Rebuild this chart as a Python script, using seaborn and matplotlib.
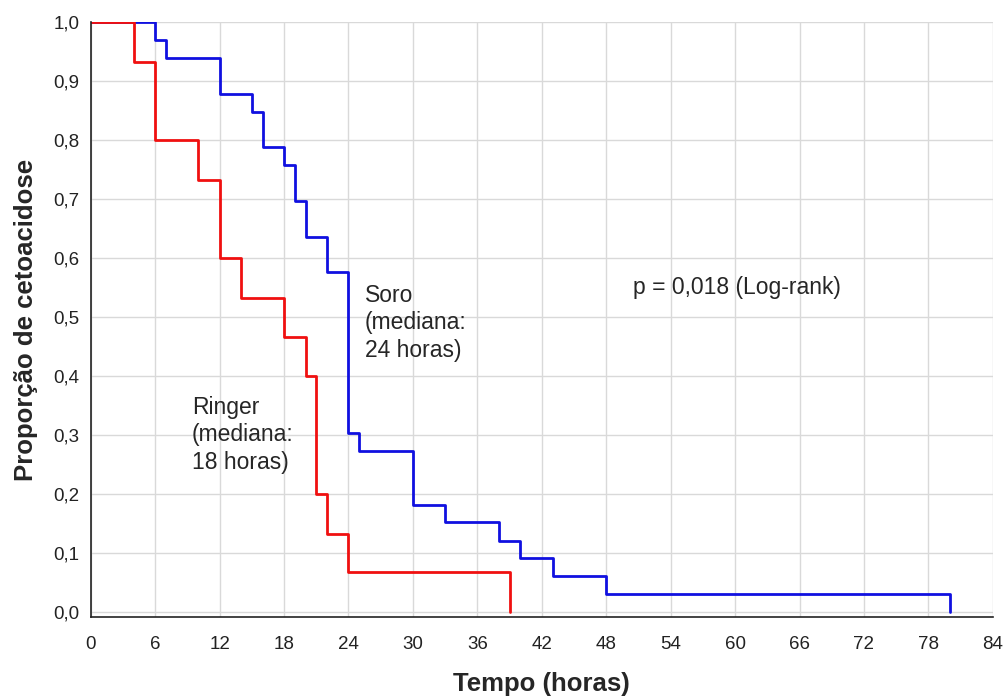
import numpy as np
import matplotlib
matplotlib.use("Agg")
import matplotlib.pyplot as plt
import pandas as pd
import seaborn as sns
from matplotlib.ticker import FuncFormatter

# curvas de Kaplan-Meier (tempo em horas, proporcao)
ringer_tempo = [0, 4, 6, 10, 12, 14, 18, 20, 21, 22, 24, 39, 39]
ringer_prop = [1.0, 0.933, 0.800, 0.733, 0.600, 0.533, 0.467, 0.400, 0.200, 0.133, 0.067, 0.067, 0.0]

soro_tempo = [0, 6, 7, 12, 15, 16, 18, 19, 20, 22, 24, 25, 30, 33, 38, 40, 43, 48, 80, 80]
soro_prop = [1.0, 0.970, 0.939, 0.879, 0.848, 0.788, 0.758, 0.697, 0.636, 0.576, 0.303,
             0.273, 0.182, 0.152, 0.121, 0.091, 0.061, 0.030, 0.030, 0.0]

x_ticks = list(range(0, 85, 6))
y_ticks = [i / 10 for i in range(11)]

sns.set_style("white")
plt.rcParams['font.family'] = ['Liberation Sans', 'DejaVu Sans']

fig, ax = plt.subplots(figsize=(10.08, 6.96), dpi=100)
fig.subplots_adjust(left=0.09, right=0.985, top=0.968, bottom=0.114)

ax.grid(True, color="#d9d9d9", linewidth=1)
ax.set_axisbelow(True)

df_r = pd.DataFrame({"t": ringer_tempo, "p": ringer_prop})
df_s = pd.DataFrame({"t": soro_tempo, "p": soro_prop})
sns.lineplot(data=df_s, x="t", y="p", drawstyle="steps-post", color="#1010e0",
             linewidth=2, sort=False, estimator=None, ax=ax)
sns.lineplot(data=df_r, x="t", y="p", drawstyle="steps-post", color="#f01010",
             linewidth=2, sort=False, estimator=None, ax=ax)

ax.set_xlim(0, 84)
ax.set_ylim(-0.008, 1.0)
ax.set_xticks(x_ticks)
ax.set_yticks(y_ticks)
ax.yaxis.set_major_formatter(FuncFormatter(lambda v, p: f"{v:.1f}".replace(".", ",")))
ax.tick_params(axis="x", direction="out", length=5, pad=9, labelsize=13.5, colors="#222222")
ax.tick_params(axis="y", direction="in", length=5, pad=8, labelsize=13.5, colors="#222222")

for s in ["top", "right"]:
    ax.spines[s].set_visible(False)
for s in ["left", "bottom"]:
    ax.spines[s].set_color("#222222")
    ax.spines[s].set_linewidth(1.2)

ax.set_xlabel("Tempo (horas)", fontsize=18.5, fontweight="bold")
ax.set_ylabel("Proporção de cetoacidose", fontsize=18.5, fontweight="bold")
ax.xaxis.set_label_coords(0.5, -0.093)
ax.yaxis.set_label_coords(-0.058, 0.5)

ax.text(25.5, 0.556, "Soro\n(mediana:\n24 horas)", fontsize=16.5, va="top", linespacing=1.24)
ax.text(9.4, 0.366, "Ringer\n(mediana:\n18 horas)", fontsize=16.5, va="top", linespacing=1.24)
ax.text(50.5, 0.551, "p = 0,018 (Log-rank)", fontsize=16.5, va="center")

plt.savefig("out.png", dpi=100)
